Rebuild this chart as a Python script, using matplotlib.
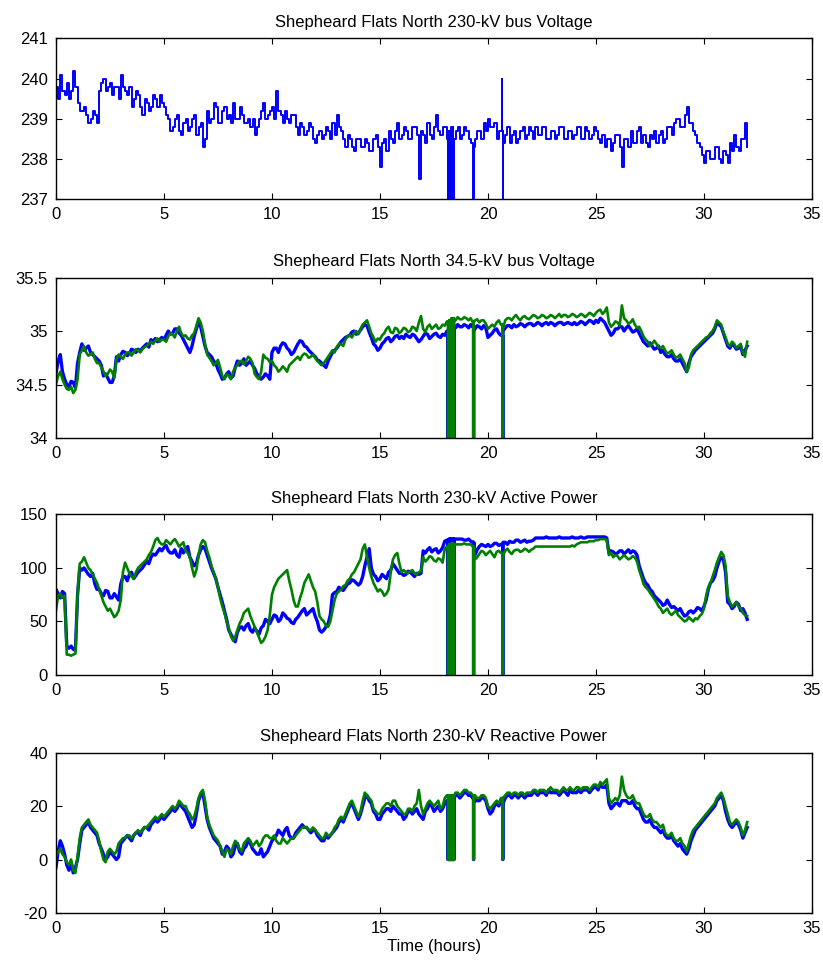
import numpy as np
import matplotlib
matplotlib.use("Agg")
import matplotlib.pyplot as plt

plt.rcParams["font.family"] = ["Liberation Sans", "DejaVu Sans"]

# readings every 0.1 h: "even" samples at 0.0, 0.2, ... 32.0, "odd" at 0.1, 0.3, ... 31.9
t_even = np.round(np.arange(0, 32.01, 0.2), 2)
t_odd = np.round(np.arange(0.1, 31.91, 0.2), 2)

# short dropouts of the recorder (hours)
dropout_times = [18.15, 18.18, 18.21, 18.24, 18.27, 18.30, 18.33, 18.36, 18.39, 18.42, 19.33, 20.68]
spike_times_230 = [20.66]
spike_level_230 = 240.0

v230_even = [
    239.8, 240.1, 239.6, 239.5, 240.2, 239.4, 239.2, 239.1, 239.0, 239.1,
    239.7, 240.0, 239.8, 239.6, 239.8, 240.1, 239.7, 239.8, 239.5, 239.6,
    239.1, 239.4, 239.3, 239.5, 239.6, 239.3, 239.0, 238.8, 239.1, 238.6,
    239.0, 238.8, 239.1, 238.8, 238.3, 239.2, 239.0, 239.3, 238.9, 239.3,
    239.1, 239.4, 239.0, 239.1, 238.9, 238.8, 238.6, 239.0, 239.4, 239.1,
    239.3, 239.7, 239.1, 239.2, 238.9, 239.1, 238.6, 238.8, 238.7, 238.8,
    238.4, 238.7, 238.6, 238.7, 238.9, 239.1, 238.7, 238.3, 238.5, 238.2,
    238.5, 238.3, 238.4, 238.2, 238.6, 237.8, 238.5, 238.7, 238.4, 238.9,
    238.6, 238.7, 238.5, 238.8, 237.5, 238.6, 238.9, 238.5, 239.1, 238.6,
    238.8, 238.7, 238.5, 238.8, 238.6, 238.7, 238.4, 238.5, 238.7, 238.9,
    239.0, 238.8, 238.5, 238.7, 238.6, 238.4, 238.7, 238.5, 238.8, 238.6,
    238.7, 238.8, 238.6, 238.8, 238.5, 238.7, 238.6, 238.8, 238.5, 238.7,
    238.6, 238.8, 238.5, 238.7, 238.6, 238.7, 238.4, 238.3, 238.5, 238.4,
    238.6, 237.8, 238.5, 238.7, 238.4, 238.8, 238.6, 238.3, 238.5, 238.4,
    238.7, 238.5, 238.8, 238.9, 239.0, 238.8, 239.3, 238.9, 238.6, 238.3,
    237.9, 238.2, 238.0, 238.3, 237.9, 238.1, 238.4, 238.6, 238.2, 238.5,
    238.3,
]
v230_odd = [
    239.5, 239.7, 239.9, 239.7, 239.8, 239.2, 239.3, 238.9, 239.2, 238.9,
    239.9, 239.7, 239.9, 239.8, 239.5, 239.8, 239.6, 239.3, 239.7, 239.3,
    239.5, 239.2, 239.6, 239.3, 239.4, 239.1, 238.7, 239.0, 238.7, 238.9,
    238.7, 239.0, 238.6, 238.9, 238.5, 238.9, 239.4, 238.9, 239.2, 239.0,
    238.9, 239.0, 239.3, 238.9, 239.0, 239.0, 238.8, 239.2, 239.0, 239.2,
    239.0, 239.2, 238.9, 239.0, 239.1, 238.8, 238.9, 238.6, 238.9, 238.5,
    238.6, 238.5, 238.8, 238.5, 238.6, 238.8, 238.5, 238.6, 238.3, 238.5,
    238.3, 238.5, 238.2, 238.5, 238.3, 238.4, 238.2, 238.5, 238.7, 238.5,
    238.8, 238.5, 238.8, 238.6, 238.7, 238.4, 238.6, 238.8, 238.7, 238.8,
    238.5, 238.8, 238.7, 238.5, 238.8, 238.5, 238.3, 238.7, 238.5, 238.7,
    238.8, 238.9, 238.7, 238.4, 238.8, 238.6, 238.4, 238.7, 238.5, 238.8,
    238.5, 238.6, 238.8, 238.5, 238.7, 238.5, 238.8, 238.5, 238.7, 238.5,
    238.8, 238.5, 238.8, 238.5, 238.8, 238.5, 238.6, 238.5, 238.2, 238.6,
    238.3, 238.5, 238.3, 238.4, 238.7, 238.4, 238.4, 238.6, 238.7, 238.6,
    238.4, 238.8, 238.6, 239.0, 238.8, 239.1, 238.9, 238.7, 238.4, 238.1,
    238.2, 238.0, 238.3, 238.0, 238.2, 237.9, 238.2, 238.3, 238.5, 238.9,
]

v34_blue_even = [
    34.60, 34.78, 34.55, 34.48, 34.52, 34.70, 34.88, 34.84, 34.80, 34.76,
    34.72, 34.58, 34.56, 34.52, 34.76, 34.78, 34.80, 34.79, 34.82, 34.83,
    34.84, 34.88, 34.92, 34.93, 34.92, 34.92, 35.00, 34.98, 35.02, 34.96,
    34.88, 34.80, 34.95, 35.08, 34.95, 34.80, 34.76, 34.70, 34.60, 34.56,
    34.62, 34.58, 34.72, 34.70, 34.68, 34.72, 34.65, 34.58, 34.57, 34.58,
    34.80, 34.84, 34.86, 34.88, 34.82, 34.80, 34.88, 34.90, 34.85, 34.80,
    34.76, 34.72, 34.68, 34.72, 34.80, 34.84, 34.90, 34.94, 34.96, 35.00,
    34.98, 35.04, 35.05, 34.94, 34.86, 34.84, 34.90, 34.94, 34.92, 34.96,
    34.95, 34.97, 34.94, 34.96, 34.90, 34.95, 34.97, 34.95, 34.98, 34.94,
    34.96, 35.03, 35.05, 35.06, 35.04, 35.05, 35.06, 35.02, 35.04, 35.05,
    34.94, 34.98, 35.02, 34.96, 35.03, 35.05, 35.06, 35.05, 35.06, 35.06,
    35.07, 35.06, 35.07, 35.07, 35.06, 35.07, 35.07, 35.08, 35.07, 35.07,
    35.08, 35.07, 35.08, 35.08, 35.09, 35.10, 35.12, 35.08, 35.00, 34.98,
    35.02, 35.04, 35.03, 35.02, 35.00, 34.98, 34.90, 34.86, 34.86, 34.84,
    34.80, 34.78, 34.76, 34.74, 34.72, 34.70, 34.62, 34.76, 34.82, 34.86,
    34.90, 34.94, 34.98, 35.08, 35.04, 34.92, 34.84, 34.86, 34.84, 34.78,
    34.86,
]
v34_blue_odd = [
    34.72, 34.62, 34.50, 34.53, 34.47, 34.80, 34.82, 34.86, 34.78, 34.74,
    34.68, 34.60, 34.52, 34.58, 34.72, 34.81, 34.77, 34.83, 34.80, 34.81,
    34.86, 34.85, 34.90, 34.90, 34.94, 34.96, 34.97, 35.02, 34.98, 34.92,
    34.84, 34.86, 35.02, 35.04, 34.86, 34.78, 34.72, 34.64, 34.55, 34.60,
    34.56, 34.66, 34.68, 34.74, 34.70, 34.68, 34.60, 34.55, 34.60, 34.55,
    34.84, 34.80, 34.89, 34.84, 34.78, 34.84, 34.91, 34.86, 34.82, 34.78,
    34.73, 34.70, 34.66, 34.76, 34.82, 34.87, 34.92, 34.95, 34.99, 34.97,
    35.01, 35.06, 34.99, 34.88, 34.82, 34.88, 34.93, 34.90, 34.95, 34.93,
    34.93, 34.95, 34.97, 34.93, 34.92, 34.98, 34.93, 34.97, 34.95, 34.97,
    35.00, 35.06, 35.03, 35.04, 35.06, 35.03, 35.04, 35.05, 35.02, 35.03,
    34.96, 35.01, 34.98, 35.00, 35.05, 35.03, 35.04, 35.07, 35.04, 35.07,
    35.05, 35.08, 35.05, 35.08, 35.08, 35.05, 35.08, 35.06, 35.08, 35.06,
    35.06, 35.09, 35.06, 35.10, 35.07, 35.08, 35.10, 35.04, 34.96, 35.02,
    35.04, 35.00, 35.05, 34.99, 35.02, 34.94, 34.88, 34.89, 34.83, 34.86,
    34.82, 34.76, 34.78, 34.72, 34.74, 34.66, 34.70, 34.79, 34.84, 34.88,
    34.92, 34.96, 35.02, 35.06, 34.98, 34.86, 34.88, 34.83, 34.86, 34.82,
]

v34_green_even = [
    34.50, 34.62, 34.50, 34.45, 34.42, 34.55, 34.82, 34.80, 34.78, 34.74,
    34.70, 34.62, 34.60, 34.62, 34.74, 34.76, 34.78, 34.80, 34.80, 34.82,
    34.83, 34.86, 34.90, 34.91, 34.90, 34.92, 34.95, 34.97, 35.00, 34.98,
    34.96, 34.92, 34.98, 35.12, 35.00, 34.78, 34.72, 34.70, 34.66, 34.55,
    34.58, 34.62, 34.68, 34.72, 34.72, 34.74, 34.60, 34.55, 34.78, 34.74,
    34.72, 34.66, 34.64, 34.65, 34.68, 34.72, 34.76, 34.77, 34.78, 34.76,
    34.75, 34.70, 34.70, 34.76, 34.82, 34.85, 34.88, 34.92, 34.96, 34.98,
    34.97, 35.06, 35.10, 34.98, 34.90, 34.92, 34.98, 35.04, 34.98, 35.02,
    35.00, 35.02, 35.00, 35.03, 35.08, 35.02, 35.04, 35.02, 35.06, 35.03,
    35.05, 35.10, 35.12, 35.13, 35.11, 35.12, 35.12, 35.10, 35.08, 35.10,
    35.02, 35.06, 35.08, 35.06, 35.10, 35.12, 35.13, 35.12, 35.13, 35.12,
    35.13, 35.14, 35.13, 35.14, 35.13, 35.14, 35.14, 35.13, 35.15, 35.14,
    35.15, 35.14, 35.15, 35.15, 35.16, 35.17, 35.20, 35.18, 35.08, 35.06,
    35.08, 35.24, 35.10, 35.08, 35.06, 35.04, 34.95, 34.90, 34.88, 34.88,
    34.84, 34.82, 34.80, 34.78, 34.76, 34.74, 34.62, 34.78, 34.84, 34.88,
    34.92, 34.95, 35.00, 35.10, 35.06, 34.94, 34.86, 34.88, 34.86, 34.80,
    34.90,
]
v34_green_odd = [
    34.58, 34.55, 34.46, 34.48, 34.45, 34.78, 34.86, 34.77, 34.80, 34.70,
    34.66, 34.58, 34.64, 34.56, 34.78, 34.74, 34.80, 34.77, 34.83, 34.80,
    34.85, 34.88, 34.88, 34.93, 34.92, 34.90, 34.98, 34.94, 35.04, 34.95,
    34.93, 34.96, 35.05, 35.08, 34.88, 34.75, 34.68, 34.73, 34.58, 34.60,
    34.55, 34.66, 34.72, 34.69, 34.76, 34.70, 34.57, 34.62, 34.75, 34.71,
    34.68, 34.62, 34.67, 34.62, 34.70, 34.74, 34.73, 34.79, 34.75, 34.78,
    34.72, 34.68, 34.73, 34.79, 34.80, 34.88, 34.86, 34.95, 34.94, 35.00,
    35.02, 35.08, 35.04, 34.94, 34.93, 34.96, 35.02, 34.99, 35.03, 34.98,
    35.03, 34.99, 35.04, 35.00, 35.14, 34.99, 35.06, 35.04, 35.02, 35.06,
    35.09, 35.12, 35.10, 35.11, 35.13, 35.10, 35.08, 35.11, 35.10, 35.07,
    35.04, 35.04, 35.10, 35.03, 35.12, 35.10, 35.15, 35.10, 35.14, 35.11,
    35.15, 35.12, 35.15, 35.12, 35.15, 35.12, 35.16, 35.15, 35.13, 35.16,
    35.13, 35.16, 35.13, 35.17, 35.14, 35.19, 35.16, 35.22, 35.04, 35.09,
    35.05, 35.12, 35.07, 35.11, 35.03, 35.00, 34.92, 34.86, 34.91, 34.85,
    34.86, 34.79, 34.82, 34.75, 34.78, 34.70, 34.66, 34.82, 34.86, 34.90,
    34.94, 34.98, 35.04, 35.08, 34.99, 34.88, 34.90, 34.84, 34.88, 34.76,
]

p_blue_even = [
    80, 72, 76, 25, 24, 75, 98, 97, 92, 85,
    80, 74, 78, 72, 73, 85, 92, 94, 90, 96,
    100, 106, 110, 112, 118, 119, 116, 114, 112, 118,
    118, 110, 102, 112, 120, 112, 100, 90, 75, 60,
    42, 34, 40, 45, 46, 42, 44, 38, 46, 50,
    52, 55, 52, 56, 52, 48, 54, 60, 56, 60,
    55, 42, 42, 48, 75, 78, 80, 82, 86, 88,
    84, 92, 110, 100, 92, 90, 92, 96, 104, 98,
    95, 94, 96, 92, 94, 116, 117, 115, 118, 116,
    125, 127, 127, 127, 127, 126, 125, 112, 120, 121,
    122, 121, 123, 122, 124, 125, 124, 126, 125, 124,
    125, 128, 128, 128, 128, 128, 128, 128, 128, 128,
    128, 128, 128, 129, 129, 129, 129, 129, 114, 115,
    114, 116, 115, 114, 115, 102, 90, 84, 78, 72,
    68, 66, 66, 64, 60, 58, 56, 60, 60, 62,
    64, 80, 88, 100, 110, 96, 66, 64, 66, 62,
    52,
]
p_blue_odd = [
    76, 78, 27, 27, 23, 100, 100, 94, 95, 80,
    76, 79, 72, 76, 70, 92, 88, 96, 93, 98,
    103, 104, 113, 115, 116, 121, 114, 117, 110, 114,
    120, 106, 104, 117, 118, 106, 95, 82, 68, 52,
    38, 31, 44, 42, 48, 40, 41, 44, 52, 48,
    56, 50, 58, 53, 49, 52, 57, 62, 58, 62,
    50, 40, 45, 56, 77, 82, 79, 85, 89, 86,
    86, 102, 118, 94, 88, 94, 90, 98, 101, 95,
    93, 97, 94, 95, 95, 114, 119, 117, 114, 119,
    126, 127, 127, 127, 126, 127, 124, 117, 122, 120,
    120, 123, 121, 124, 122, 124, 126, 124, 126, 125,
    126, 128, 128, 129, 128, 128, 129, 128, 128, 129,
    128, 129, 128, 129, 129, 129, 129, 128, 116, 113,
    116, 113, 117, 116, 112, 96, 86, 80, 74, 70,
    65, 70, 63, 62, 62, 55, 59, 58, 63, 60,
    70, 86, 92, 106, 108, 68, 62, 68, 60, 58,
]

p_green_even = [
    60, 76, 74, 19, 19, 75, 106, 105, 98, 90,
    80, 68, 60, 58, 56, 70, 105, 95, 90, 100,
    104, 108, 115, 126, 124, 122, 124, 125, 124, 122,
    116, 110, 92, 112, 126, 116, 102, 90, 72, 58,
    44, 32, 42, 52, 60, 55, 45, 35, 32, 42,
    75, 86, 92, 96, 88, 70, 64, 78, 90, 88,
    78, 55, 50, 45, 60, 76, 80, 84, 90, 96,
    104, 118, 110, 92, 82, 80, 74, 80, 108, 114,
    96, 96, 97, 95, 96, 110, 108, 110, 106, 108,
    118, 122, 122, 122, 122, 122, 122, 108, 113, 115,
    114, 113, 115, 114, 116, 115, 116, 117, 116, 117,
    117, 120, 120, 120, 120, 120, 120, 120, 120, 120,
    120, 123, 124, 124, 125, 126, 127, 127, 112, 110,
    111, 110, 110, 109, 110, 98, 85, 80, 74, 68,
    62, 60, 58, 58, 56, 52, 51, 52, 53, 55,
    62, 82, 92, 105, 115, 102, 68, 66, 64, 58,
    55,
]
p_green_odd = [
    74, 72, 19, 18, 20, 104, 110, 100, 94, 86,
    74, 64, 62, 54, 60, 96, 100, 92, 96, 102,
    106, 112, 120, 128, 122, 126, 122, 127, 120, 124,
    114, 100, 98, 122, 124, 110, 96, 82, 64, 50,
    36, 36, 48, 58, 62, 50, 40, 30, 36, 56,
    82, 90, 94, 98, 80, 64, 72, 86, 94, 82,
    68, 52, 46, 50, 70, 78, 83, 88, 94, 100,
    108, 122, 100, 86, 78, 78, 76, 96, 112, 104,
    98, 95, 98, 94, 97, 106, 111, 107, 109, 105,
    120, 123, 122, 122, 123, 122, 120, 110, 116, 112,
    116, 110, 116, 112, 118, 113, 117, 115, 118, 115,
    118, 120, 120, 120, 120, 120, 120, 120, 120, 121,
    122, 124, 124, 125, 125, 126, 127, 126, 114, 112,
    108, 112, 108, 111, 106, 92, 82, 77, 71, 64,
    58, 62, 56, 60, 54, 50, 54, 50, 52, 57,
    74, 86, 98, 110, 112, 74, 64, 68, 62, 56,
]

q_blue_even = [
    -3, 7, 2, -4, -5, 0, 11, 13, 12, 10,
    6, 2, 1, 2, 0, 6, 8, 8, 9, 10,
    11, 12, 13, 15, 15, 15, 17, 19, 19, 20,
    18, 14, 13, 22, 25, 15, 10, 7, 5, 3,
    4, 2, 6, 2, 5, 6, 3, 2, 1, 3,
    7, 9, 10, 11, 9, 8, 11, 13, 12, 10,
    11, 8, 7, 8, 10, 12, 15, 16, 20, 19,
    15, 20, 24, 21, 17, 15, 18, 19, 20, 18,
    17, 16, 18, 18, 17, 15, 19, 20, 19, 18,
    21, 22, 23, 24, 24, 25, 24, 22, 22, 23,
    19, 18, 21, 22, 23, 24, 24, 23, 24, 24,
    24, 25, 25, 25, 26, 25, 25, 25, 25, 26,
    25, 26, 26, 26, 26, 27, 28, 27, 21, 20,
    21, 22, 22, 21, 20, 19, 15, 14, 13, 12,
    10, 9, 8, 7, 5, 4, 2, 7, 11, 13,
    15, 17, 19, 22, 24, 18, 13, 13, 13, 8,
    12,
]
q_blue_odd = [
    3, 5, -2, -1, -3, 6, 12, 14, 11, 9,
    4, 0, 3, 1, 1, 7, 9, 7, 10, 9,
    12, 11, 14, 14, 16, 16, 18, 18, 21, 19,
    16, 12, 17, 24, 20, 12, 8, 6, 2, 5,
    1, 5, 3, 4, 7, 4, 2, 4, 2, 5,
    8, 11, 9, 12, 8, 10, 12, 12, 11, 11,
    9, 7, 9, 9, 11, 14, 14, 18, 21, 17,
    17, 23, 22, 18, 15, 17, 19, 18, 19, 17,
    15, 18, 17, 19, 16, 18, 21, 18, 20, 19,
    22, 21, 24, 23, 25, 24, 23, 22, 23, 22,
    17, 20, 20, 21, 24, 23, 24, 24, 23, 24,
    25, 24, 25, 24, 25, 25, 24, 26, 24, 25,
    25, 25, 26, 25, 27, 26, 27, 28, 19, 21,
    20, 22, 21, 22, 19, 17, 14, 15, 12, 11,
    11, 8, 9, 6, 6, 3, 4, 9, 12, 14,
    16, 18, 20, 23, 22, 15, 12, 14, 11, 10,
]

q_green_even = [
    1, 4, 1, -2, -4, 1, 12, 14, 13, 11,
    7, 0, 3, 3, 3, 7, 8, 9, 9, 11,
    11, 12, 14, 16, 16, 16, 18, 20, 20, 21,
    20, 17, 16, 23, 26, 16, 11, 8, 5, 1,
    3, 5, 6, 3, 7, 7, 6, 5, 8, 9,
    8, 7, 6, 7, 7, 8, 10, 12, 12, 11,
    11, 9, 8, 9, 10, 13, 16, 17, 21, 20,
    16, 22, 24, 22, 18, 17, 20, 21, 22, 20,
    18, 17, 19, 20, 26, 17, 21, 21, 21, 19,
    23, 24, 24, 25, 25, 26, 25, 24, 23, 24,
    20, 20, 22, 23, 24, 25, 25, 24, 25, 25,
    25, 26, 26, 26, 26, 26, 26, 26, 26, 27,
    26, 27, 27, 27, 27, 28, 29, 29, 23, 22,
    22, 31, 24, 23, 22, 21, 17, 16, 15, 14,
    12, 10, 9, 8, 7, 6, 3, 9, 12, 14,
    16, 18, 20, 23, 25, 20, 14, 14, 14, 9,
    14,
]
q_green_odd = [
    3, 2, -1, 0, -5, 8, 13, 15, 12, 10,
    3, -1, 4, 2, 6, 8, 9, 8, 10, 10,
    12, 13, 15, 15, 17, 17, 19, 19, 22, 20,
    18, 15, 19, 25, 22, 13, 9, 7, 3, 4,
    2, 7, 4, 6, 8, 5, 7, 6, 9, 8,
    9, 6, 8, 6, 8, 9, 11, 12, 11, 12,
    10, 8, 10, 9, 12, 15, 15, 19, 22, 18,
    18, 25, 23, 19, 17, 19, 21, 20, 22, 19,
    17, 19, 18, 21, 20, 19, 22, 20, 22, 20,
    24, 23, 25, 24, 26, 25, 24, 23, 24, 23,
    19, 21, 21, 23, 25, 24, 25, 25, 24, 25,
    26, 25, 26, 25, 27, 26, 25, 27, 26, 26,
    27, 26, 27, 26, 28, 27, 28, 30, 21, 23,
    24, 26, 23, 24, 21, 19, 16, 17, 14, 13,
    13, 9, 10, 7, 8, 5, 6, 11, 13, 15,
    17, 19, 21, 24, 23, 17, 13, 15, 12, 11,
]

titles = [
    "Shepheard Flats North 230-kV bus Voltage",
    "Shepheard Flats North 34.5-kV bus Voltage",
    "Shepheard Flats North 230-kV Active Power",
    "Shepheard Flats North 230-kV Reactive Power",
]
y_limits = [(237, 241), (34, 35.5), (0, 150), (-20, 40)]
y_ticks = [
    [237, 238, 239, 240, 241],
    [34, 34.5, 35, 35.5],
    [0, 50, 100, 150],
    [-20, 0, 20, 40],
]
x_ticks = [0, 5, 10, 15, 20, 25, 30, 35]

BLUE = (0, 0, 1)
GREEN = (0, 0.5, 0)


def merge(even, odd):
    """Put the even and odd readings back in time order."""
    t = np.empty(len(t_even) + len(t_odd))
    v = np.empty_like(t)
    t[0::2], t[1::2] = t_even, t_odd
    v[0::2], v[1::2] = even, odd
    return t, v


def with_events(t, v, times, level=0.0):
    """Insert short excursions of the signal to `level` at the given times."""
    tt, vv = list(t), list(v)
    for td in times:
        i = int(np.searchsorted(tt, td))
        hold = vv[i - 1]
        tt[i:i] = [td, td, td + 0.01, td + 0.01]
        vv[i:i] = [hold, level, level, hold]
    return tt, vv


fig = plt.figure(figsize=(8.23, 9.67), dpi=100)
left, width, height = 0.068, 0.9186, 0.1660
bottoms = [0.7942, 0.5470, 0.3020, 0.0558]
axes = [fig.add_axes([left, b, width, height]) for b in bottoms]

# panel 1: 230-kV voltage (one trace)
tt, vv = merge(v230_even, v230_odd)
tt, vv = with_events(tt, vv, spike_times_230, level=spike_level_230)
tt, vv = with_events(tt, vv, dropout_times)
axes[0].plot(tt, vv, color=BLUE, lw=1.4, drawstyle="steps-post")

# panels 2-4: two traces each
pairs = [
    ((v34_blue_even, v34_blue_odd), (v34_green_even, v34_green_odd)),
    ((p_blue_even, p_blue_odd), (p_green_even, p_green_odd)),
    ((q_blue_even, q_blue_odd), (q_green_even, q_green_odd)),
]
for ax, (blue, green) in zip(axes[1:], pairs):
    tb, vb = with_events(*merge(*blue), dropout_times)
    tg, vg = with_events(*merge(*green), dropout_times)
    ax.plot(tb, vb, color=BLUE, lw=2.4)
    ax.plot(tg, vg, color=GREEN, lw=1.9)

for i, ax in enumerate(axes):
    ax.set_xlim(0, 35)
    ax.set_ylim(*y_limits[i])
    ax.set_xticks(x_ticks)
    ax.set_yticks(y_ticks[i])
    ax.set_yticklabels([f"{y:g}" for y in y_ticks[i]])
    ax.set_title(titles[i], fontsize=12, pad=8)
    ax.tick_params(direction="in", top=True, right=True, length=4,
                   width=0.8, labelsize=12, pad=6)
    for s in ax.spines.values():
        s.set_linewidth(1.0)

axes[-1].set_xlabel("Time (hours)", fontsize=12, labelpad=2)

fig.savefig("out.png", dpi=100)
